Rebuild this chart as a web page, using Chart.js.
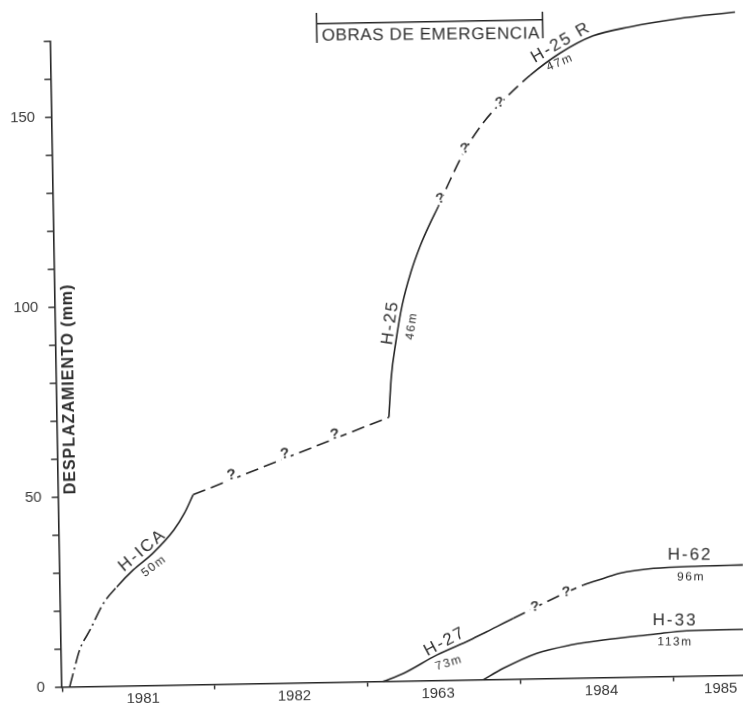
<!DOCTYPE html>
<html>
<head>
<meta charset="utf-8">
<script src="https://cdn.jsdelivr.net/npm/chart.js@4/dist/chart.umd.min.js"></script>
<style>
  html, body { margin: 0; padding: 0; background: #fff; overflow: hidden; }
  /* the sheet sits slightly turned on the page */
  #sheet { width: 743px; height: 703px; transform: rotate(-1deg); transform-origin: 371.5px 351.5px; }
  canvas { display: block; }
</style>
</head>
<body>
<div id="sheet"><canvas id="c" width="743" height="703"></canvas></div>
<script>
// Desplazamiento acumulado (mm) de los inclinómetros frente al tiempo (años decimales)

// eje X
const yearLabels  = ['1981', '1982', '1963', '1984', '1985'];
const yearLabelAt = [1981.53, 1982.52, 1983.46, 1984.53, 1985.31];
const yearBounds  = [1981, 1982, 1983, 1984, 1985];
// eje Y
const yLabelled = [0, 50, 100, 150];

// H-ICA (50 m)
const hicaEarly = [[1981.05, 0], [1981.075, 3.6], [1981.12, 9.7], [1981.19, 14.9], [1981.28, 21.8], [1981.37, 26.1]];
const hicaSolid = [[1981.37, 26.1], [1981.48, 30.5], [1981.61, 34.8], [1981.75, 40.8], [1981.82, 45.1], [1981.88, 50]];
// tramo sin lecturas entre H-ICA y H-25
const hicaToH25 = [[1981.88, 50], [1983.17, 69.5]];
// H-25 (46 m) y su reposición H-25 R (47 m)
const h25Solid = [[1983.17, 69.5], [1983.19, 80], [1983.225, 89.5], [1983.27, 99], [1983.33, 107.5], [1983.395, 114.5], [1983.46, 120.2], [1983.517, 124.7]];
const h25Gap   = [[1983.517, 124.7], [1983.6, 131.8], [1983.7, 139.5], [1983.81, 146], [1983.933, 151.5], [1984.133, 158.8]];
const h25r     = [[1984.133, 158.8], [1984.331, 164.5], [1984.549, 168.9], [1984.792, 171.1], [1985.101, 173.0], [1985.481, 174.5]];
// H-27 (73 m) y H-62 (96 m)
const h27    = [[1983.103, 0], [1983.235, 2.0], [1983.456, 6.7], [1983.675, 10.5], [1983.785, 12.6], [1983.961, 16.0]];
const h27Gap = [[1983.961, 16.0], [1984.423, 24.45]];
const h62    = [[1984.423, 24.45], [1984.555, 26.1], [1984.664, 27.4], [1984.883, 28.5], [1985.21, 28.9], [1985.47, 29.0]];
// H-33 (113 m)
const h33 = [[1983.758, 0], [1983.89, 2.9], [1984.11, 6.7], [1984.329, 8.7], [1984.548, 9.9], [1984.875, 11.15], [1985.094, 11.95], [1985.463, 12.06]];

// periodo de obras de emergencia
const obrasPeriod = [1982.742, 1984.221];

// puntos dudosos marcados con "?"
const doubtHica = [[1982.134, 54.7], [1982.486, 60.0], [1982.815, 64.9]];
const doubtH25  = [[1983.535, 126.5], [1983.7, 139.5], [1983.933, 151.5]];
const doubtH27  = [[1984.104, 18.6], [1984.313, 22.4]];

const ink = '#262626';
const textInk = '#2e2e2e';
const FONT = '"Liberation Sans", Arial, sans-serif';
const SOLID = [];
const DASH = [13, 6];
const DASH_DOT = [14, 4, 2, 4];

// one dataset per continuous curve; each piece keeps its own dash style
function curve(pieces) {
  const data = [];
  const dashes = [];
  pieces.forEach(([pts, dash], k) => {
    pts.forEach((p, i) => {
      if (k > 0 && i === 0) return;
      data.push({ x: p[0], y: p[1] });
      if (data.length > 1) dashes.push(dash);
    });
  });
  return {
    data,
    borderColor: ink,
    borderWidth: 1.6,
    pointRadius: 0,
    fill: false,
    clip: false,
    cubicInterpolationMode: 'monotone',
    segment: { borderDash: ctx => dashes[ctx.p0DataIndex] }
  };
}

const datasets = [
  curve([[hicaEarly, DASH_DOT], [hicaSolid, SOLID]]),
  curve([[hicaToH25, DASH]]),
  curve([[h25Solid, SOLID], [h25Gap, DASH], [h25r, SOLID]]),
  curve([[h27, SOLID], [h27Gap, DASH], [h62, SOLID]]),
  curve([[h33, SOLID]])
];

// curve names and depths written along the lines
const curveTags = [
  { text: 'H-ICA',  at: [1981.542, 35.6],  angle: -39, size: 17 },
  { text: '50m',    at: [1981.616, 31.4],  angle: -36, size: 12 },
  { text: 'H-25',   at: [1983.19, 94.4],   angle: -81, size: 17 },
  { text: '46m',    at: [1983.33, 93.4],   angle: -81, size: 12 },
  { text: 'H-25 R', at: [1984.339, 167.3], angle: -29, size: 17 },
  { text: '47m',    at: [1984.33, 162.05], angle: -22, size: 12 },
  { text: 'H-27',   at: [1983.511, 10.16], angle: -27, size: 17 },
  { text: '73m',    at: [1983.535, 4.54],  angle: -16, size: 12 },
  { text: 'H-62',   at: [1985.125, 31.85], angle: 1,   size: 17 },
  { text: '96m',    at: [1985.129, 26.06], angle: 1,   size: 12 },
  { text: 'H-33',   at: [1985.019, 14.68], angle: 1,   size: 17 },
  { text: '113m',   at: [1985.017, 9.03],  angle: 1,   size: 12 }
];

function drawText(ctx, text, px, py, angle, size, weight, spacing) {
  ctx.save();
  ctx.translate(px, py);
  ctx.rotate(angle * Math.PI / 180);
  ctx.font = `${weight} ${size}px ${FONT}`;
  ctx.letterSpacing = spacing;
  ctx.textAlign = 'center';
  ctx.textBaseline = 'middle';
  ctx.fillStyle = textInk;
  ctx.fillText(text, 0, 0);
  ctx.restore();
}

const notes = {
  id: 'notes',
  afterDatasetsDraw(chart) {
    const { ctx } = chart;
    const x = chart.scales.x, y = chart.scales.y;

    // question marks sitting on the dashed stretches
    const marks = [[doubtHica, -18, 15], [doubtH25, -45, 14], [doubtH27, -20, 14]];
    marks.forEach(([list, angle, size]) => {
      list.forEach(([vx, vy]) => {
        const px = x.getPixelForValue(vx), py = y.getPixelForValue(vy);
        ctx.save();
        ctx.translate(px, py);
        ctx.rotate(angle * Math.PI / 180);
        ctx.fillStyle = '#fff';
        ctx.fillRect(-5, -7, 10, 14);
        ctx.rotate(-angle * Math.PI / 180 * 0.6);
        ctx.font = `bold ${size}px ${FONT}`;
        ctx.textAlign = 'center';
        ctx.textBaseline = 'middle';
        ctx.fillStyle = '#3a3a3a';
        ctx.fillText('?', 0, -1);
        ctx.restore();
      });
    });

    curveTags.forEach(t => {
      drawText(ctx, t.text, x.getPixelForValue(t.at[0]), y.getPixelForValue(t.at[1]),
        t.angle, t.size, 'normal', t.size > 14 ? '2px' : '1.5px');
    });

    // emergency works bracket
    const x0 = x.getPixelForValue(obrasPeriod[0]);
    const x1 = x.getPixelForValue(obrasPeriod[1]);
    const yBar = y.getPixelForValue(173.4);
    ctx.save();
    ctx.strokeStyle = ink;
    ctx.lineWidth = 1.5;
    ctx.beginPath();
    ctx.moveTo(x0, yBar); ctx.lineTo(x1, yBar);
    ctx.moveTo(x0, y.getPixelForValue(176.2)); ctx.lineTo(x0, y.getPixelForValue(168.3));
    ctx.moveTo(x1, y.getPixelForValue(175.5)); ctx.lineTo(x1, y.getPixelForValue(168.5));
    ctx.stroke();
    ctx.restore();
    drawText(ctx, 'OBRAS DE EMERGENCIA', (x0 + x1) / 2 + 1, y.getPixelForValue(169.9), 0.5, 17, 'normal', '0.6px');

    // vertical axis title, written inside the frame
    drawText(ctx, 'DESPLAZAMIENTO (mm)', x.getPixelForValue(1981.0795), y.getPixelForValue(78.4),
      -90, 16, 'bold', '1px');
  }
};

new Chart(document.getElementById('c'), {
  type: 'line',
  data: { datasets },
  plugins: [notes],
  options: {
    responsive: false,
    animation: false,
    devicePixelRatio: 1,
    layout: { padding: { top: 35.6, right: 0, bottom: 0, left: 0 } },
    plugins: { legend: { display: false }, tooltip: { enabled: false } },
    scales: {
      x: {
        type: 'linear',
        min: 1981,
        max: 1985.495,
        afterBuildTicks: s => {
          s.ticks = [...yearBounds, ...yearLabelAt].sort((a, b) => a - b).map(v => ({ value: v }));
        },
        afterFit: s => { s.height = 21.4; },
        ticks: {
          autoSkip: false,
          maxRotation: 0,
          padding: -1,
          color: '#3a3a3a',
          font: { family: FONT, size: 15 },
          callback: v => {
            const i = yearLabelAt.findIndex(p => Math.abs(p - v) < 1e-6);
            return i >= 0 ? yearLabels[i] : '';
          }
        },
        grid: {
          drawOnChartArea: false,
          tickLength: 5,
          lineWidth: 1.4,
          tickColor: c => yearBounds.some(b => Math.abs(b - c.tick.value) < 1e-6) ? ink : 'rgba(0,0,0,0)'
        },
        border: { color: ink, width: 1.6 }
      },
      y: {
        type: 'linear',
        min: 0,
        max: 170,
        afterBuildTicks: s => {
          const t = [];
          for (let v = 0; v <= 170; v += 10) t.push({ value: v });
          s.ticks = t;
        },
        afterFit: s => { s.width = 56.2; },
        ticks: {
          padding: 10,
          color: '#3a3a3a',
          font: { family: FONT, size: 15 },
          callback: v => yLabelled.includes(v) ? String(v) : ''
        },
        grid: { drawOnChartArea: false, tickLength: 7, lineWidth: 1.4, tickColor: ink },
        border: { color: ink, width: 1.6 }
      }
    }
  }
});
</script>
</body>
</html>
